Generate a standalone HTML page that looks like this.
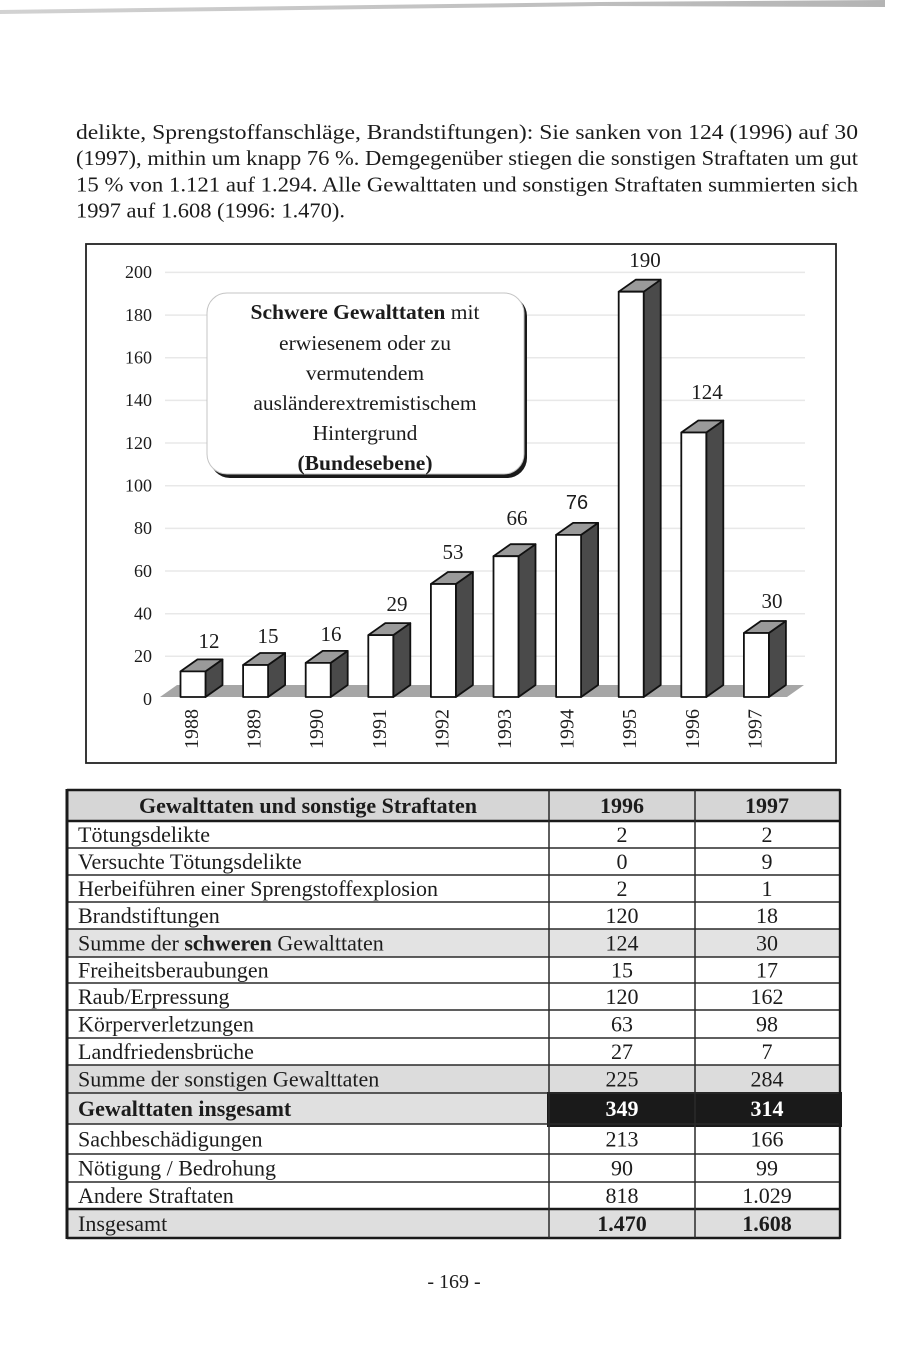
<!DOCTYPE html>
<html>
<head>
<meta charset="utf-8">
<style>
  html,body{margin:0;padding:0;background:#fff;}
  body{width:900px;height:1346px;overflow:hidden;position:relative;}
  svg{position:absolute;left:0;top:0;}
  text{font-family:"Liberation Serif","DejaVu Serif",serif;fill:#1c1c1c;}
</style>
</head>
<body>
<svg width="900" height="1346" viewBox="0 0 900 1346" xmlns="http://www.w3.org/2000/svg">
  <defs>
    <linearGradient id="topbar" x1="0" y1="0" x2="1" y2="0">
      <stop offset="0" stop-color="#d2d2d2"/>
      <stop offset="1" stop-color="#b4b4b4"/>
    </linearGradient>
  </defs>

  <!-- top scan bar -->
  <polygon points="0,10 300,6 600,2 885,0 885,7 600,6 300,10 0,14" fill="url(#topbar)"/>

  <!-- paragraph -->
  <g font-size="21.5">
    <text x="76" y="139" textLength="782" lengthAdjust="spacingAndGlyphs">delikte, Sprengstoffanschläge, Brandstiftungen): Sie sanken von 124 (1996) auf 30</text>
    <text x="76" y="165" textLength="782" lengthAdjust="spacingAndGlyphs">(1997), mithin um knapp 76 %. Demgegenüber stiegen die sonstigen Straftaten um gut</text>
    <text x="76" y="191.5" textLength="782" lengthAdjust="spacingAndGlyphs">15 % von 1.121 auf 1.294. Alle Gewalttaten und sonstigen Straftaten summierten sich</text>
    <text x="76" y="217.5" textLength="269" lengthAdjust="spacingAndGlyphs">1997 auf 1.608 (1996: 1.470).</text>
  </g>

  <!-- chart frame -->
  <rect x="86" y="244" width="750" height="519" fill="#fff" stroke="#222" stroke-width="1.8"/>

  <!-- gridlines -->
  <g stroke="#e8e8e8" stroke-width="1.5">
    <line x1="165" y1="272.4" x2="805" y2="272.4"/>
    <line x1="165" y1="315.1" x2="805" y2="315.1"/>
    <line x1="165" y1="357.7" x2="805" y2="357.7"/>
    <line x1="165" y1="400.4" x2="805" y2="400.4"/>
    <line x1="165" y1="443.0" x2="805" y2="443.0"/>
    <line x1="165" y1="485.7" x2="805" y2="485.7"/>
    <line x1="165" y1="528.4" x2="805" y2="528.4"/>
    <line x1="165" y1="571.0" x2="805" y2="571.0"/>
    <line x1="165" y1="613.7" x2="805" y2="613.7"/>
    <line x1="165" y1="656.3" x2="805" y2="656.3"/>
  </g>

  <!-- y labels -->
  <g font-size="18" text-anchor="end" fill="#333">
    <text x="152" y="278">200</text>
    <text x="152" y="321">180</text>
    <text x="152" y="363.5">160</text>
    <text x="152" y="406">140</text>
    <text x="152" y="449">120</text>
    <text x="152" y="491.5">100</text>
    <text x="152" y="534">80</text>
    <text x="152" y="577">60</text>
    <text x="152" y="619.5">40</text>
    <text x="152" y="662">20</text>
    <text x="152" y="705">0</text>
  </g>

  <!-- floor -->
  <polygon points="160,697 787,697 804,685 177,685" fill="#a6a6a6"/>

  <!-- bars -->
  <g stroke="#111" stroke-width="1.8" stroke-linejoin="round">
    <polygon points="205.5,671.4 222.5,659.4 222.5,685 205.5,697" fill="#4a4a4a"/>
    <polygon points="180.5,671.4 197.5,659.4 222.5,659.4 205.5,671.4" fill="#9a9a9a"/>
    <rect x="180.5" y="671.4" width="25" height="25.6" fill="#fff"/>
    <polygon points="268.1,665 285.1,653 285.1,685 268.1,697" fill="#4a4a4a"/>
    <polygon points="243.1,665 260.1,653 285.1,653 268.1,665" fill="#9a9a9a"/>
    <rect x="243.1" y="665" width="25" height="32" fill="#fff"/>
    <polygon points="330.7,662.9 347.7,650.9 347.7,685 330.7,697" fill="#4a4a4a"/>
    <polygon points="305.7,662.9 322.7,650.9 347.7,650.9 330.7,662.9" fill="#9a9a9a"/>
    <rect x="305.7" y="662.9" width="25" height="34.1" fill="#fff"/>
    <polygon points="393.3,635.1 410.3,623.1 410.3,685 393.3,697" fill="#4a4a4a"/>
    <polygon points="368.3,635.1 385.3,623.1 410.3,623.1 393.3,635.1" fill="#9a9a9a"/>
    <rect x="368.3" y="635.1" width="25" height="61.9" fill="#fff"/>
    <polygon points="455.9,584 472.9,572 472.9,685 455.9,697" fill="#4a4a4a"/>
    <polygon points="430.9,584 447.9,572 472.9,572 455.9,584" fill="#9a9a9a"/>
    <rect x="430.9" y="584" width="25" height="113" fill="#fff"/>
    <polygon points="518.5,556.2 535.5,544.2 535.5,685 518.5,697" fill="#4a4a4a"/>
    <polygon points="493.5,556.2 510.5,544.2 535.5,544.2 518.5,556.2" fill="#9a9a9a"/>
    <rect x="493.5" y="556.2" width="25" height="140.8" fill="#fff"/>
    <polygon points="581.1,534.9 598.1,522.9 598.1,685 581.1,697" fill="#4a4a4a"/>
    <polygon points="556.1,534.9 573.1,522.9 598.1,522.9 581.1,534.9" fill="#9a9a9a"/>
    <rect x="556.1" y="534.9" width="25" height="162.1" fill="#fff"/>
    <polygon points="643.7,291.7 660.7,279.7 660.7,685 643.7,697" fill="#4a4a4a"/>
    <polygon points="618.7,291.7 635.7,279.7 660.7,279.7 643.7,291.7" fill="#9a9a9a"/>
    <rect x="618.7" y="291.7" width="25" height="405.3" fill="#fff"/>
    <polygon points="706.3,432.5 723.3,420.5 723.3,685 706.3,697" fill="#4a4a4a"/>
    <polygon points="681.3,432.5 698.3,420.5 723.3,420.5 706.3,432.5" fill="#9a9a9a"/>
    <rect x="681.3" y="432.5" width="25" height="264.5" fill="#fff"/>
    <polygon points="768.9,633 785.9,621 785.9,685 768.9,697" fill="#4a4a4a"/>
    <polygon points="743.9,633 760.9,621 785.9,621 768.9,633" fill="#9a9a9a"/>
    <rect x="743.9" y="633" width="25" height="64" fill="#fff"/>
  </g>

  <!-- value labels -->
  <g font-size="21" text-anchor="middle">
    <text x="209" y="648">12</text>
    <text x="268" y="643">15</text>
    <text x="331" y="641">16</text>
    <text x="397" y="611">29</text>
    <text x="453" y="559">53</text>
    <text x="517" y="525">66</text>
    <text x="577" y="509" style="font-family:'Liberation Sans','DejaVu Sans',sans-serif" font-size="20">76</text>
    <text x="645" y="267">190</text>
    <text x="707" y="399">124</text>
    <text x="772" y="608">30</text>
  </g>

  <!-- year labels -->
  <g font-size="20" text-anchor="middle">
    <text transform="translate(198,729) rotate(-90)">1988</text>
    <text transform="translate(260.6,729) rotate(-90)">1989</text>
    <text transform="translate(323.2,729) rotate(-90)">1990</text>
    <text transform="translate(385.8,729) rotate(-90)">1991</text>
    <text transform="translate(448.4,729) rotate(-90)">1992</text>
    <text transform="translate(511,729) rotate(-90)">1993</text>
    <text transform="translate(573.6,729) rotate(-90)">1994</text>
    <text transform="translate(636.2,729) rotate(-90)">1995</text>
    <text transform="translate(698.8,729) rotate(-90)">1996</text>
    <text transform="translate(761.4,729) rotate(-90)">1997</text>
  </g>

  <!-- title box -->
  <rect x="210" y="296" width="317" height="182" rx="20" ry="20" fill="#1a1a1a"/>
  <rect x="207" y="293" width="317" height="181" rx="20" ry="20" fill="#fff" stroke="#c4c4c4" stroke-width="1"/>
  <g font-size="21.5" text-anchor="middle">
    <text x="365" y="319"><tspan font-weight="bold">Schwere Gewalttaten</tspan> mit</text>
    <text x="365" y="350">erwiesenem oder zu</text>
    <text x="365" y="380">vermutendem</text>
    <text x="365" y="410">ausländerextremistischem</text>
    <text x="365" y="440">Hintergrund</text>
    <text x="365" y="470" font-weight="bold">(Bundesebene)</text>
  </g>

  <!-- TABLE -->
  <rect x="67" y="790" width="773" height="31" fill="#d6d6d6"/>
  <rect x="67" y="929" width="773" height="28" fill="#e3e3e3"/>
  <rect x="67" y="1065" width="773" height="28" fill="#dcdcdc"/>
  <rect x="67" y="1093" width="482" height="31" fill="#e0e0e0"/>
  <rect x="547" y="1092" width="295" height="35" fill="#1a1a1a"/>
  <rect x="67" y="1209" width="773" height="29" fill="#dedede"/>

  <g stroke="#2a2a2a" stroke-width="1.4">
    <line x1="67" y1="848" x2="840" y2="848"/>
    <line x1="67" y1="875" x2="840" y2="875"/>
    <line x1="67" y1="902" x2="840" y2="902"/>
    <line x1="67" y1="929" x2="840" y2="929"/>
    <line x1="67" y1="957" x2="840" y2="957"/>
    <line x1="67" y1="983" x2="840" y2="983"/>
    <line x1="67" y1="1010" x2="840" y2="1010"/>
    <line x1="67" y1="1038" x2="840" y2="1038"/>
    <line x1="67" y1="1065" x2="840" y2="1065"/>
    <line x1="67" y1="1093" x2="840" y2="1093"/>
    <line x1="67" y1="1124" x2="840" y2="1124"/>
    <line x1="67" y1="1154" x2="840" y2="1154"/>
    <line x1="67" y1="1182" x2="840" y2="1182"/>
  </g>
  <g stroke="#1a1a1a" stroke-width="2.6">
    <line x1="67" y1="790" x2="840" y2="790"/>
    <line x1="67" y1="821" x2="840" y2="821"/>
    <line x1="67" y1="1209" x2="840" y2="1209"/>
    <line x1="67" y1="1238" x2="840" y2="1238"/>
  </g>
  <line x1="67" y1="789" x2="67" y2="1239" stroke="#1a1a1a" stroke-width="3"/>
  <line x1="549" y1="790" x2="549" y2="1238" stroke="#2a2a2a" stroke-width="1.5"/>
  <line x1="695" y1="790" x2="695" y2="1238" stroke="#2a2a2a" stroke-width="1.5"/>
  <line x1="840" y1="789" x2="840" y2="1239" stroke="#1a1a1a" stroke-width="2.4"/>

  <g font-size="22">
    <text x="308" y="813" text-anchor="middle" font-weight="bold">Gewalttaten und sonstige Straftaten</text>
    <text x="622" y="813" text-anchor="middle" font-weight="bold">1996</text>
    <text x="767" y="813" text-anchor="middle" font-weight="bold">1997</text>

    <text x="78" y="842">Tötungsdelikte</text>
    <text x="78" y="869">Versuchte Tötungsdelikte</text>
    <text x="78" y="896">Herbeiführen einer Sprengstoffexplosion</text>
    <text x="78" y="923">Brandstiftungen</text>
    <text x="78" y="950.5">Summe der <tspan font-weight="bold">schweren</tspan> Gewalttaten</text>
    <text x="78" y="977.5">Freiheitsberaubungen</text>
    <text x="78" y="1004">Raub/Erpressung</text>
    <text x="78" y="1031.5">Körperverletzungen</text>
    <text x="78" y="1059">Landfriedensbrüche</text>
    <text x="78" y="1086.5">Summe der sonstigen Gewalttaten</text>
    <text x="78" y="1116" font-weight="bold">Gewalttaten insgesamt</text>
    <text x="78" y="1146.5">Sachbeschädigungen</text>
    <text x="78" y="1175.5">Nötigung / Bedrohung</text>
    <text x="78" y="1203">Andere Straftaten</text>
    <text x="78" y="1231">Insgesamt</text>
  </g>
  <g font-size="22" text-anchor="middle">
    <text x="622" y="842">2</text><text x="767" y="842">2</text>
    <text x="622" y="869">0</text><text x="767" y="869">9</text>
    <text x="622" y="896">2</text><text x="767" y="896">1</text>
    <text x="622" y="923">120</text><text x="767" y="923">18</text>
    <text x="622" y="950.5">124</text><text x="767" y="950.5">30</text>
    <text x="622" y="977.5">15</text><text x="767" y="977.5">17</text>
    <text x="622" y="1004">120</text><text x="767" y="1004">162</text>
    <text x="622" y="1031.5">63</text><text x="767" y="1031.5">98</text>
    <text x="622" y="1059">27</text><text x="767" y="1059">7</text>
    <text x="622" y="1086.5">225</text><text x="767" y="1086.5">284</text>
    <text x="622" y="1116" font-weight="bold" style="fill:#fff">349</text>
    <text x="767" y="1116" font-weight="bold" style="fill:#fff">314</text>
    <text x="622" y="1146.5">213</text><text x="767" y="1146.5">166</text>
    <text x="622" y="1175.5">90</text><text x="767" y="1175.5">99</text>
    <text x="622" y="1203">818</text><text x="767" y="1203">1.029</text>
    <text x="622" y="1231" font-weight="bold">1.470</text>
    <text x="767" y="1231" font-weight="bold">1.608</text>
  </g>

  <text x="454" y="1288" font-size="20" text-anchor="middle">- 169 -</text>
</svg>
</body>
</html>
